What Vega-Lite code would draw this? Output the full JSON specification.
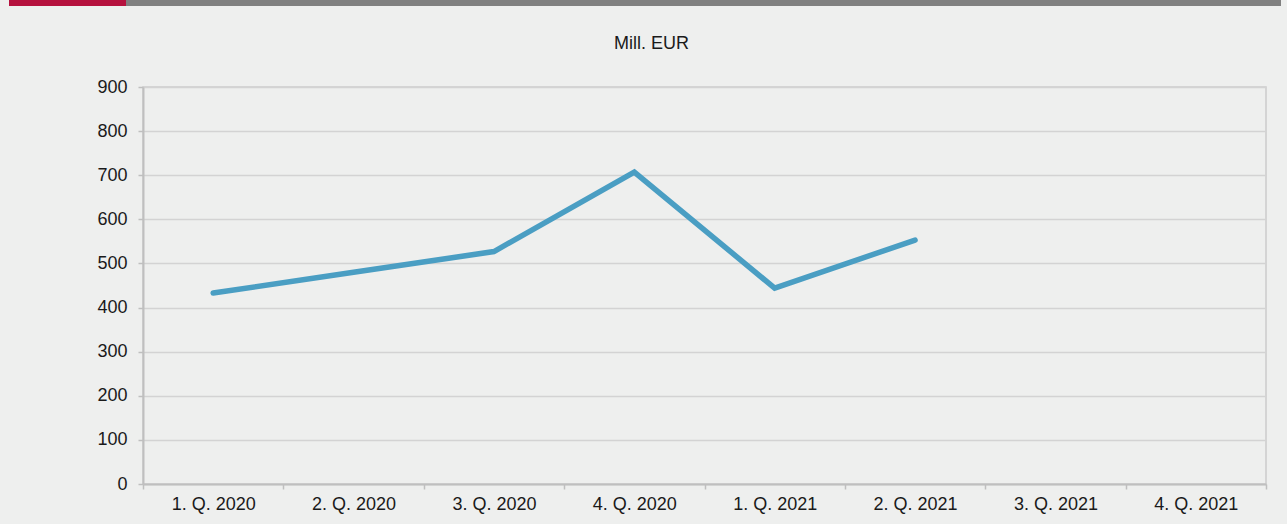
{
  "$schema": "https://vega.github.io/schema/vega-lite/v6.json",
  "background": "#EEEFEE",
  "padding": {"left": 8, "top": 0, "right": 7, "bottom": 12},
  "spacing": 28,
  "config": {
    "font": "Liberation Sans",
    "view": {"stroke": null}
  },
  "vconcat": [
    {
      "width": 1123,
      "height": 6,
      "data": {"values": [
        {"part": "accent", "start": -134, "end": -17},
        {"part": "rule", "start": -17, "end": 1138}
      ]},
      "mark": {"type": "rect", "clip": false},
      "encoding": {
        "x": {"field": "start", "type": "quantitative", "scale": {"domain": [0, 1123], "nice": false, "zero": false}, "axis": null},
        "x2": {"field": "end"},
        "color": {"field": "part", "type": "nominal", "scale": {"domain": ["accent", "rule"], "range": ["#B5123E", "#808080"]}, "legend": null}
      }
    },
    {
      "width": 1123,
      "height": 397,
      "title": {
        "text": "Mill. EUR",
        "fontSize": 18,
        "fontWeight": "normal",
        "color": "#1a1a1a",
        "anchor": "middle",
        "dx": -53,
        "offset": 25
      },
      "view": {"stroke": "#CCCCCC", "strokeWidth": 1.5},
      "data": {"values": [
        {"quarter": "1. Q. 2020", "value": 433},
        {"quarter": "2. Q. 2020", "value": 480},
        {"quarter": "3. Q. 2020", "value": 527},
        {"quarter": "4. Q. 2020", "value": 707},
        {"quarter": "1. Q. 2021", "value": 444},
        {"quarter": "2. Q. 2021", "value": 553},
        {"quarter": "3. Q. 2021", "value": null},
        {"quarter": "4. Q. 2021", "value": null}
      ]},
      "mark": {"type": "line", "color": "#4A9EC3", "strokeWidth": 5.5, "strokeCap": "round", "strokeJoin": "miter"},
      "encoding": {
        "x": {
          "field": "quarter", "type": "nominal", "sort": null, "bandPosition": 0.5,
          "scale": {"type": "band", "paddingInner": 0, "paddingOuter": 0,
            "domain": ["1. Q. 2020", "2. Q. 2020", "3. Q. 2020", "4. Q. 2020", "1. Q. 2021", "2. Q. 2021", "3. Q. 2021", "4. Q. 2021"]},
          "axis": {
            "title": null, "labelAngle": 0, "grid": false, "tickBand": "extent",
            "domainColor": "#BFBFBF", "domainWidth": 2, "tickColor": "#BFBFBF", "tickWidth": 1.5, "tickSize": 5,
            "labelFontSize": 18, "labelColor": "#1a1a1a", "labelPadding": 6
          }
        },
        "y": {
          "field": "value", "type": "quantitative",
          "scale": {"domain": [0, 900], "nice": false},
          "axis": {
            "title": null, "values": [0, 100, 200, 300, 400, 500, 600, 700, 800, 900],
            "gridColor": "#D3D3D3", "gridWidth": 1.5,
            "domainColor": "#BFBFBF", "domainWidth": 2, "tickColor": "#BFBFBF", "tickWidth": 1.5, "tickSize": 5,
            "labelFontSize": 18, "labelColor": "#1a1a1a", "labelPadding": 11,
            "minExtent": 134, "maxExtent": 134
          }
        }
      }
    }
  ]
}
